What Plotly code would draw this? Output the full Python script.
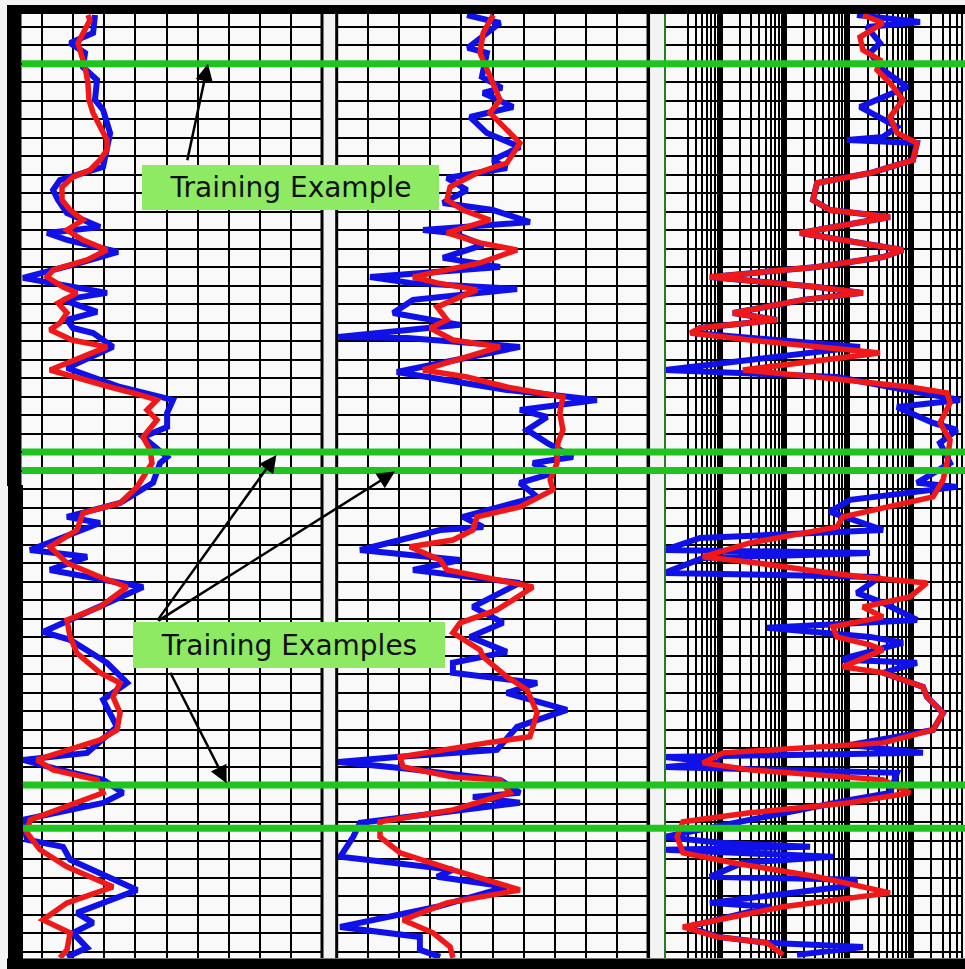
import plotly.graph_objects as go

W, H = 965, 969

# ---------------- Track 1: gamma ray (API) ----------------
gr_raw_depth = [
    0.37, 1.34, 1.88, 2.42, 3.18, 3.88, 4.96, 5.50, 6.75, 7.66,
    8.58, 9.29, 9.83, 10.37, 11.07, 11.83, 12.15, 12.53, 13.18, 13.77,
    14.58, 15.39, 15.77, 16.42, 16.85, 17.29, 17.56, 18.31, 19.45, 20.48,
    21.18, 21.88, 22.64, 23.18, 24.26, 24.59, 25.66, 26.75, 27.50, 27.83,
    29.29, 29.66, 30.37, 31.29, 32.37, 33.72, 34.15, 35.39, 36.48, 37.39,
    38.85, 40.26, 40.64, 41.18, 41.72, 42.42, 42.96, 43.88, 44.96, 45.34,
    46.04, 47.67, 48.91, 49.45, 49.99, 50.80, 51.29,
]
gr_raw = [
    40.5, 39.6, 28.5, 35.7, 34.7, 41.5, 40.5, 44.4, 47.8, 46.3,
    44.4, 23.6, 20.3, 22.7, 27.0, 42.9, 17.4, 27.0, 51.6, 33.3,
    5.8, 46.3, 25.1, 41.5, 27.0, 29.9, 39.6, 49.2, 27.0, 52.6,
    78.1, 75.3, 75.3, 63.7, 75.3, 71.9, 68.5, 52.6, 27.0, 42.9,
    9.2, 36.7, 18.8, 63.7, 42.9, 15.4, 28.5, 46.3, 56.0, 44.4,
    51.1, 36.7, 5.8, 23.6, 44.4, 54.0, 44.4, 5.8, 7.7, 25.1,
    28.5, 60.8, 31.8, 39.6, 29.9, 36.7, 27.0,
]
gr_pred_depth = [
    0.37, 0.64, 1.88, 2.64, 3.18, 4.04, 4.96, 5.66, 6.42, 7.12,
    7.66, 8.21, 8.75, 9.12, 9.66, 10.37, 10.91, 11.45, 11.99, 12.53,
    13.07, 13.61, 14.15, 14.53, 15.07, 15.39, 15.94, 16.48, 17.02, 17.39,
    17.94, 18.31, 19.56, 19.94, 20.48, 20.91, 21.18, 21.72, 22.26, 23.18,
    23.88, 24.59, 25.34, 25.88, 26.75, 27.29, 28.21, 29.12, 29.99, 30.75,
    31.29, 32.37, 33.07, 33.99, 34.86, 35.93, 36.48, 37.23, 38.10, 39.02,
    39.56, 40.10, 40.64, 41.18, 41.72, 42.42, 43.18, 43.88, 44.58, 45.50,
    46.42, 47.50, 48.37, 49.29, 49.99, 50.91, 51.34,
]
gr_pred = [
    37.1, 38.1, 32.3, 34.3, 35.7, 37.1, 37.6, 39.6, 42.9, 46.3,
    46.3, 42.9, 38.1, 29.9, 24.6, 24.6, 28.5, 34.7, 27.0, 34.7,
    46.3, 36.7, 20.3, 17.4, 25.1, 31.8, 22.7, 27.0, 23.6, 18.8,
    29.4, 46.3, 18.8, 31.8, 47.8, 62.2, 70.4, 65.6, 70.4, 63.7,
    67.1, 68.0, 63.7, 60.8, 52.6, 34.7, 31.8, 18.8, 27.0, 42.9,
    56.0, 42.9, 27.0, 28.5, 31.8, 42.9, 52.6, 49.2, 52.6, 51.1,
    42.9, 27.0, 12.5, 20.3, 41.5, 44.4, 27.0, 9.2, 7.7, 14.0,
    27.0, 49.2, 27.0, 15.4, 28.5, 27.0, 23.6,
]

# ---------------- Track 2: linear log (0-100) ----------------
t2_raw_depth = [
    0.37, 0.80, 2.15, 2.42, 3.72, 4.31, 4.58, 5.34, 5.88, 6.75,
    7.50, 8.21, 8.64, 9.18, 9.83, 10.53, 10.91, 11.56, 11.99, 12.15,
    12.80, 13.50, 13.99, 14.53, 14.85, 15.18, 15.77, 16.48, 17.12, 17.77,
    17.83, 18.31, 19.67, 20.64, 21.18, 21.72, 22.10, 22.80, 23.50, 24.26,
    24.59, 25.13, 25.66, 26.42, 27.50, 28.05, 28.21, 29.29, 29.83, 30.37,
    31.07, 32.37, 33.23, 33.99, 34.80, 35.39, 35.93, 36.48, 37.02, 37.94,
    38.85, 40.10, 40.48, 40.75, 41.10, 41.72, 42.42, 42.64, 42.96, 44.04,
    44.80, 45.88, 46.58, 46.96, 47.50, 48.58, 49.67, 50.21, 50.91, 51.29,
]
t2_raw = [
    41.8, 52.4, 42.1, 48.2, 46.6, 53.0, 47.0, 56.6, 42.8, 48.2,
    58.8, 50.1, 54.6, 35.4, 41.8, 34.1, 50.1, 62.0, 27.7, 37.3,
    47.0, 34.1, 52.4, 10.7, 23.5, 57.9, 24.5, 18.1, 39.6, 0.5,
    22.6, 58.8, 19.3, 54.6, 83.5, 58.8, 67.5, 61.1, 67.5, 75.8,
    63.0, 69.4, 58.8, 64.3, 40.5, 47.0, 33.2, 7.5, 39.6, 24.5,
    58.8, 43.7, 53.4, 42.8, 54.6, 37.3, 37.3, 64.3, 54.6, 73.9,
    57.9, 51.4, 19.3, 0.5, 22.0, 52.4, 58.8, 43.7, 58.8, 7.5,
    5.3, 1.1, 37.3, 32.2, 54.6, 32.2, 1.1, 26.7, 26.7, 33.2,
]
t2_pred_depth = [
    0.37, 1.34, 2.42, 3.72, 4.96, 5.66, 6.58, 7.29, 8.37, 8.91,
    9.66, 10.37, 10.91, 11.45, 12.15, 12.69, 13.07, 13.77, 14.53, 14.85,
    15.23, 16.15, 16.85, 17.29, 17.94, 18.31, 19.56, 19.94, 20.48, 21.02,
    21.88, 22.80, 23.50, 24.59, 25.50, 26.04, 26.96, 27.50, 28.21, 28.75,
    29.12, 29.83, 30.37, 30.91, 31.29, 31.99, 32.53, 33.23, 33.77, 34.69,
    35.07, 36.15, 36.85, 38.10, 39.39, 39.72, 40.48, 41.02, 41.56, 41.72,
    42.42, 43.34, 43.99, 44.80, 45.66, 46.58, 47.67, 48.37, 49.29, 49.99,
    50.75, 51.34,
]
t2_pred = [
    50.2, 47.0, 46.0, 49.2, 52.4, 49.2, 54.6, 58.8, 54.6, 45.0,
    36.4, 35.4, 40.5, 49.2, 35.4, 46.0, 57.9, 46.0, 24.5, 32.2,
    45.0, 32.2, 35.4, 30.0, 37.3, 52.4, 27.7, 41.8, 54.6, 72.6,
    71.6, 72.6, 71.0, 70.7, 68.5, 69.4, 58.8, 45.0, 43.7, 37.3,
    23.5, 33.2, 35.4, 52.4, 63.0, 56.6, 51.4, 39.6, 37.3, 46.0,
    47.0, 54.6, 61.1, 64.3, 62.0, 48.2, 20.3, 21.3, 37.3, 52.4,
    55.6, 37.3, 13.9, 13.9, 20.3, 37.3, 58.8, 35.4, 21.3, 30.9,
    36.4, 37.3,
]

# ---------------- Track 3: resistivity (ohm-m, log scale) ----------------
res_raw_depth = [
    0.37, 0.75, 1.02, 1.88, 2.42, 3.34, 4.26, 5.34, 6.42, 6.96,
    7.12, 7.29, 8.21, 8.91, 9.45, 10.37, 10.91, 11.29, 12.15, 13.07,
    13.45, 13.99, 14.53, 15.07, 15.39, 15.77, 16.48, 16.85, 17.29, 17.56,
    18.31, 19.56, 19.94, 21.18, 21.56, 22.42, 22.80, 23.50, 24.59, 25.66,
    25.88, 26.58, 27.23, 28.21, 28.64, 29.29, 29.45, 29.72, 30.53, 30.75,
    31.61, 32.15, 33.07, 33.50, 33.99, 34.31, 35.07, 35.23, 35.39, 35.93,
    36.69, 37.23, 38.10, 39.02, 39.39, 39.83, 40.26, 40.48, 40.80, 41.02,
    41.34, 42.42, 42.80, 43.88, 44.80, 45.12, 45.34, 45.50, 45.88, 46.20,
    46.96, 47.12, 47.50, 48.37, 48.58, 49.67, 50.21, 50.53, 50.75, 51.18,
]
res_raw = [
    136, 1330, 196, 313, 218, 349, 832, 152, 580, 349,
    95, 1194, 1033, 218, 32.1, 27.8, 51.4, 450, 17.4, 720,
    349, 32.1, 0.67, 32.1, 169, 19.4, 1.54, 7.57, 0.47, 0.36,
    152, 0.13, 66, 5650, 580, 2130, 5070, 2740, 3940, 1194,
    5070, 106, 51.4, 349, 0.47, 0.13, 218, 0.52, 0.13, 313,
    136, 349, 1194, 5.27, 218, 720, 106, 82, 1194, 349,
    1480, 1710, 3060, 2130, 580, 106, 1480, 0.13, 0.96, 0.13,
    580, 450, 106, 2.85, 0.13, 0.96, 25, 0.13, 57, 2.21,
    0.67, 136, 80, 0.67, 5.88, 0.3, 0.9, 5.3, 169, 15.6,
]
res_pred_depth = [
    0.37, 0.80, 1.56, 2.26, 2.80, 3.34, 4.04, 4.96, 5.88, 6.75,
    7.29, 8.21, 8.91, 9.45, 10.37, 10.91, 11.29, 12.15, 13.07, 13.45,
    13.99, 14.53, 15.07, 15.39, 15.77, 16.48, 16.85, 17.29, 17.56, 17.94,
    18.64, 19.56, 19.94, 20.48, 20.80, 21.34, 22.42, 23.34, 24.59, 25.50,
    26.42, 27.50, 28.05, 28.91, 29.66, 29.99, 30.37, 30.75, 31.07, 31.83,
    32.37, 32.91, 33.45, 33.99, 34.42, 34.69, 35.61, 35.93, 36.69, 37.23,
    38.10, 39.02, 39.72, 40.26, 40.80, 41.18, 41.72, 42.42, 42.96, 43.50,
    43.99, 44.80, 45.66, 46.20, 46.96, 47.83, 48.58, 49.67, 50.21, 50.53,
    51.18,
]
res_pred = [
    169, 349, 152, 169, 313, 281, 450, 720, 450, 580,
    1194, 1033, 218, 32.1, 27.8, 51.4, 450, 17.4, 720, 349,
    32.1, 0.67, 32.1, 169, 19.4, 1.54, 7.57, 0.47, 0.33, 2.85,
    313, 2.21, 32.1, 927, 3530, 3940, 2740, 3940, 3530, 3060,
    2130, 82, 66, 2.85, 0.52, 3.67, 22.4, 169, 1710, 927,
    169, 349, 57, 66, 218, 349, 82, 349, 1480, 1710,
    3060, 2130, 349, 1.07, 0.52, 2.85, 349, 927, 106, 2.85,
    0.253, 0.204, 0.253, 1.54, 32.1, 450, 9.4, 0.253, 0.865, 5.27,
    9.4,
]

# Depths of the selected training intervals
training_depths = [3.0, 24.0, 25.0, 42.0, 44.33]

BLUE = "#1010e8"
RED = "#f01818"
GREEN = "#1fc41f"
LABEL_BG = "rgb(142,234,98)"

DEPTH_TOP, DEPTH_BOTTOM = 0.3135, 51.35


def px(x):
    return x / W


def py(y):
    return 1 - y / H


fig = go.Figure()
tracks = [
    ("x", gr_raw_depth, gr_raw, gr_pred_depth, gr_pred),
    ("x2", t2_raw_depth, t2_raw, t2_pred_depth, t2_pred),
    ("x3", res_raw_depth, res_raw, res_pred_depth, res_pred),
]
for xa, rd, rv, pd, pv in tracks:
    fig.add_trace(go.Scatter(x=rv, y=rd, xaxis=xa, yaxis="y", mode="lines",
                             line=dict(color=BLUE, width=6), hoverinfo="skip"))
for xa, rd, rv, pd, pv in tracks:
    fig.add_trace(go.Scatter(x=pv, y=pd, xaxis=xa, yaxis="y", mode="lines",
                             line=dict(color=RED, width=5.5), hoverinfo="skip"))

common = dict(showgrid=True, gridcolor="black", showticklabels=False, ticks="",
              zeroline=False, showline=False, fixedrange=True)

minor_vals = [m * 10 ** e for e in (-1, 0, 1, 2, 3) for m in range(2, 10)]
minor_vals = [v for v in minor_vals if v >= 0.3 and v <= 6000]

fig.update_layout(
    width=W, height=H,
    margin=dict(l=0, r=0, t=0, b=0),
    paper_bgcolor="#f3f3f3",
    plot_bgcolor="#f9f9f9",
    showlegend=False,
    xaxis=dict(domain=[px(11), px(322)], range=[0, 150], tick0=0, dtick=15,
               gridwidth=2, anchor="y", **common),
    xaxis2=dict(domain=[px(336.7), px(648.3)], range=[0, 100], tick0=0, dtick=10,
                gridwidth=2, anchor="y", **common),
    xaxis3=dict(domain=[px(665), px(963)], type="log", range=[-0.879, 3.799],
                tickvals=[1, 10, 100, 1000], gridwidth=4, anchor="y",
                minor=dict(tickvals=minor_vals, showgrid=True, gridcolor="black",
                           gridwidth=2, ticks=""),
                **common),
    yaxis=dict(domain=[py(958), py(14)], range=[DEPTH_BOTTOM, DEPTH_TOP],
               tick0=0, dtick=1, gridwidth=2, anchor="x", **common),
)

shapes = []
# track boundaries
for x, w, c in [(322, 3, "black"), (336.7, 3, "black"), (648.3, 3.5, "black"),
                (665, 2, "#2a7a2a")]:
    shapes.append(dict(type="line", xref="paper", yref="paper",
                       x0=px(x), x1=px(x), y0=py(958), y1=py(14),
                       line=dict(color=c, width=w), layer="above"))
# training interval markers
for d in training_depths:
    shapes.append(dict(type="line", xref="paper", yref="y",
                       x0=px(22), x1=1, y0=d, y1=d,
                       line=dict(color=GREEN, width=7), layer="above"))
# heavy frame
for x0, x1, y0, y1 in [(7, 965, 5, 14), (7, 21.5, 5, 486), (8, 23, 485, 962),
                       (7, 965, 958.5, 969)]:
    shapes.append(dict(type="rect", xref="paper", yref="paper",
                       x0=px(x0), x1=px(x1), y0=py(y1), y1=py(y0),
                       fillcolor="black", line=dict(width=0), layer="above"))
fig.update_layout(shapes=shapes)

annotations = []
# arrows: head on a training line, tail offset in pixels
arrows = [
    ("x", 95, training_depths[0], -21, 98),
    ("x", 128, 24.15, -120, 167),
    ("x2", 18.7, 25.05, -238, 150),
    ("x", 104, 41.9, -57, -112),
]
for xr, xv, yv, ax, ay in arrows:
    annotations.append(dict(xref=xr, yref="y", x=xv, y=yv, text="",
                            showarrow=True, arrowhead=2, arrowsize=1.4,
                            arrowwidth=2.5, arrowcolor="black",
                            axref="pixel", ayref="pixel", ax=ax, ay=ay,
                            standoff=0))
for text, cx, cy, bw, bh in [("Training Example", 290, 187.5, 297, 45),
                             ("Training Examples", 289, 645, 312, 46)]:
    annotations.append(dict(xref="paper", yref="paper", x=px(cx), y=py(cy),
                            xanchor="center", yanchor="middle", text=text,
                            showarrow=False, width=bw, height=bh,
                            bgcolor=LABEL_BG, borderpad=0, borderwidth=0,
                            font=dict(family="DejaVu Sans", size=28,
                                      color="#111111")))
fig.update_layout(annotations=annotations)

fig.write_html("out.html")
